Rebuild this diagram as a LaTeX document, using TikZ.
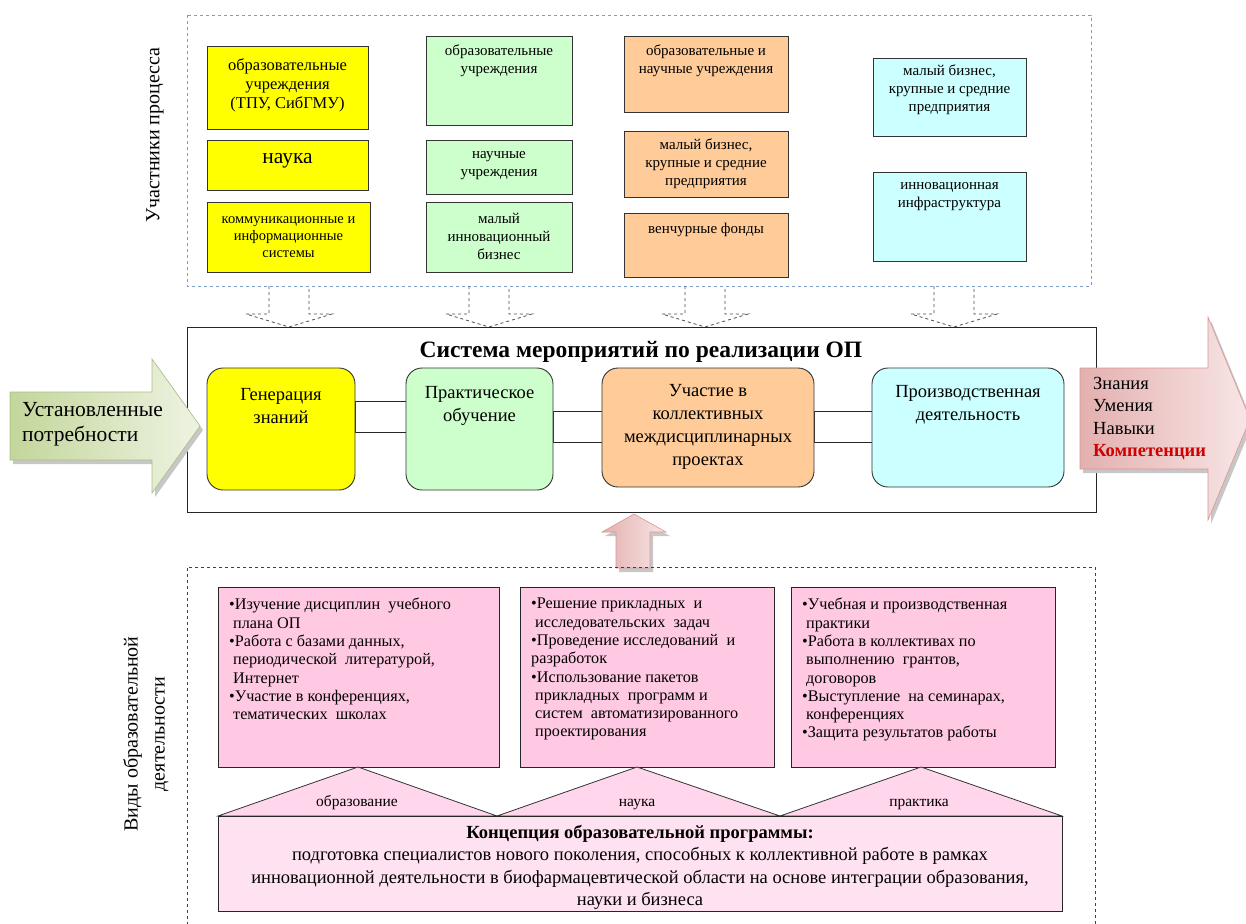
\documentclass[tikz,border=0pt]{standalone}
\usepackage{fontspec}
\setmainfont{Liberation Serif}
\newcommand\myfs[2]{\fontsize{#1}{#2}\selectfont}
\definecolor{yel}{HTML}{FFFF00}
\definecolor{grn}{HTML}{CCFFCC}
\definecolor{org}{HTML}{FFCC99}
\definecolor{cyn}{HTML}{CCFFFF}
\definecolor{pnk}{HTML}{FFC8E3}
\definecolor{tri}{HTML}{FFD6EB}
\definecolor{conc}{HTML}{FFE2F1}
\definecolor{dblue}{HTML}{7E9CC8}
\definecolor{kred}{HTML}{D00000}
\definecolor{garL}{HTML}{C3D69B}
\definecolor{garR}{HTML}{EEF3E2}
\definecolor{garB}{HTML}{A9BE82}
\definecolor{parL}{HTML}{E3B0AF}
\definecolor{parR}{HTML}{F8E6E6}
\definecolor{parB}{HTML}{D99694}
\begin{document}
\begin{tikzpicture}[x=1pt,y=-1pt,
  tbox/.style={draw=black!80, line width=0.8pt, inner sep=0, outer sep=0},
  ttext/.style={align=center, inner sep=0, font=\myfs{15}{18}},
  rbox/.style={draw=black!80, line width=0.9pt, rounded corners=16pt, inner sep=0, outer sep=0},
  rtext/.style={align=center, inner sep=0, font=\myfs{18.5}{22.8}},
  conn/.style={draw=black!85, line width=0.8pt, fill=white},
  darr/.style={draw=black!70, dashed, line width=0.8pt},
  pbox/.style={draw=black!85, line width=0.9pt, fill=pnk, inner sep=0, outer sep=0},
  ptext/.style={align=left, inner sep=0, font=\myfs{16.2}{18.3}, anchor=north west},
  tril/.style={draw=black!80, line width=0.8pt, fill=tri},
  lbl/.style={inner sep=0, anchor=base, font=\myfs{15.5}{17}},
  shad/.style={fill=black!22}
]
\useasboundingbox (0,0) rectangle (1246,923);

% ---------- top participants area ----------
\draw[dblue, dashed, line width=0.9pt] (187,15) rectangle (1091,286);
\node[rotate=90, inner sep=0, font=\myfs{20}{22}] (lblPart) at (155,135) {Участники процесса};

\node[tbox, fill=yel, minimum width=161pt, minimum height=83pt] (y1) at (287.5,87.5) {};
\node[ttext, font=\myfs{16.5}{19}] (y1t) at (287.5,85) {образовательные\\учреждения\\(ТПУ, СибГМУ)};
\node[tbox, fill=yel, minimum width=161pt, minimum height=50pt] (y2) at (287.5,165) {};
\node[ttext, font=\myfs{21.5}{23}] (y2t) at (287.5,161) {наука};
\node[tbox, fill=yel, minimum width=163pt, minimum height=70pt] (y3) at (288.5,237) {};
\node[ttext, font=\myfs{14.5}{17}] (y3t) at (y3) {коммуникационные и\\информационные\\системы};

\node[tbox, fill=grn, minimum width=146pt, minimum height=89pt] (g1) at (499,80.5) {};
\node[ttext] (g1t) at (499,61) {образовательные\\учреждения};
\node[tbox, fill=grn, minimum width=146pt, minimum height=54pt] (g2) at (499,167) {};
\node[ttext] (g2t) at (499,165.5) {научные\\учреждения};
\node[tbox, fill=grn, minimum width=146pt, minimum height=70pt] (g3) at (499,237) {};
\node[ttext] (g3t) at (499,236) {малый\\инновационный\\бизнес};

\node[tbox, fill=org, minimum width=164pt, minimum height=76pt] (o1) at (706,74) {};
\node[ttext] (o1t) at (706,61) {образовательные и\\научные учреждения};
\node[tbox, fill=org, minimum width=164pt, minimum height=66pt] (o2) at (706,164) {};
\node[ttext] (o2t) at (706,163.5) {малый бизнес,\\крупные и средние\\предприятия};
\node[tbox, fill=org, minimum width=164pt, minimum height=64pt] (o3) at (706,245) {};
\node[ttext] (o3t) at (706,230) {венчурные фонды};

\node[tbox, fill=cyn, minimum width=153pt, minimum height=78pt] (c1) at (949.5,97) {};
\node[ttext] (c1t) at (949.5,90) {малый бизнес,\\крупные и средние\\предприятия};
\node[tbox, fill=cyn, minimum width=153pt, minimum height=89pt] (c2) at (949.5,216.5) {};
\node[ttext] (c2t) at (949.5,197) {инновационная\\инфраструктура};

% dashed block arrows
\foreach \cx in {289,489,705,954}{
  \draw[darr] (\cx-20,286) -- (\cx-20,314) -- (\cx-43,314) -- (\cx,327) -- (\cx+43,314) -- (\cx+20,314) -- (\cx+20,286);
}

% ---------- main system box ----------
\node[draw=black!85, line width=0.9pt, minimum width=909pt, minimum height=185pt, inner sep=0] (sys) at (641.5,419.5) {};
\node[inner sep=0, font=\bfseries\myfs{23.5}{25}] (title) at (641,352) {Система мероприятий по реализации ОП};

\draw[conn] (355,401) rectangle (406,432);
\draw[conn] (553,411) rectangle (602,442);
\draw[conn] (814,411) rectangle (872,442);

\node[rbox, fill=yel, minimum width=148pt, minimum height=122pt] (gen) at (281,429) {};
\node[rtext] (gent) at (281,406) {Генерация\\знаний};
\node[rbox, fill=grn, minimum width=147pt, minimum height=122pt] (prak) at (479.5,429) {};
\node[rtext] (prakt) at (479.5,406) {Практическое\\обучение};
\node[rbox, fill=org, minimum width=212pt, minimum height=119pt] (uch) at (708,427.5) {};
\node[rtext] (ucht) at (708,427) {Участие в\\коллективных\\междисциплинарных\\проектах};
\node[rbox, fill=cyn, minimum width=192pt, minimum height=119pt] (proiz) at (968,427.5) {};
\node[rtext] (proizt) at (968,405) {Производственная\\деятельность};

% green input arrow
\fill[shad] (13,396) -- (155,396) -- (155,363) -- (203,430) -- (155,497) -- (155,464) -- (13,464) -- cycle;
\draw[draw=garB, line width=0.6pt, left color=garL, right color=garR]
  (10,392) -- (152,392) -- (152,359) -- (200,426) -- (152,493) -- (152,460) -- (10,460) -- cycle;
\node[align=left, inner sep=0, anchor=west, font=\myfs{21.5}{25}] (need) at (22,424.5) {Установленные\\потребности};

% pink output arrow
\fill[shad] (1083,372) -- (1211,372) -- (1211,321) -- (1253,423) -- (1211,524) -- (1211,473) -- (1083,473) -- cycle;
\draw[draw=parB, line width=0.6pt, left color=parL, right color=parR]
  (1080,368) -- (1208,368) -- (1208,317) -- (1250,419) -- (1208,520) -- (1208,469) -- (1080,469) -- cycle;
\node[align=left, inner sep=0, anchor=west, font=\myfs{18.5}{22.5}] (res) at (1093,418.5) {Знания\\Умения\\Навыки\\\textcolor{kred}{\bfseries Компетенции}};

% pink up arrow
\fill[shad] (619,572) -- (619,536) -- (605,536) -- (637,518) -- (670,536) -- (653,536) -- (653,572) -- cycle;
\draw[draw=parB, line width=0.6pt, left color=parL, right color=parR]
  (616,568) -- (616,532) -- (602,532) -- (634,514) -- (666,532) -- (650,532) -- (650,568) -- cycle;

% ---------- bottom area ----------
\draw[black!75, dashed, line width=0.9pt] (187,925) -- (187,567) -- (1095,567) -- (1095,925);
\node[rotate=90, align=center, inner sep=0, font=\myfs{20}{27}] (lblVid) at (146,734) {Виды образовательной\\деятельности};

\node[pbox, minimum width=281pt, minimum height=180pt] (p1) at (358.5,677) {};
\node[ptext] (p1t) at (229,598) {•Изучение дисциплин\ \ учебного\\\hspace{4pt}плана ОП\\•Работа с базами данных,\\\hspace{4pt}периодической\ \ литературой,\\\hspace{4pt}Интернет\\•Участие в конференциях,\\\hspace{4pt}тематических\ \ школах};
\node[pbox, minimum width=254pt, minimum height=180pt] (p2) at (647,677) {};
\node[ptext] (p2t) at (531,598) {•Решение прикладных\ \ и\\\hspace{4pt}исследовательских\ \ задач\\•Проведение исследований\ \ и\\разработок\\•Использование пакетов\\\hspace{4pt}прикладных\ \ программ и\\\hspace{4pt}систем\ \ автоматизированного\\\hspace{4pt}проектирования};
\node[pbox, minimum width=264pt, minimum height=180pt] (p3) at (923,677) {};
\node[ptext] (p3t) at (802,598) {•Учебная и производственная\\\hspace{4pt}практики\\•Работа в коллективах по\\\hspace{4pt}выполнению\ \ грантов,\\\hspace{4pt}договоров\\•Выступление\ \ на семинарах,\\\hspace{4pt}конференциях\\•Защита результатов работы};

% triangles
\draw[tril] (218,816) -- (358,767) -- (497,816) -- cycle;
\draw[tril] (497,816) -- (637,767) -- (780,816) -- cycle;
\draw[tril] (780,816) -- (921,767) -- (1062,816) -- cycle;
\node[lbl] (tl1) at (357,806) {образование};
\node[lbl] (tl2) at (637,806) {наука};
\node[lbl] (tl3) at (919,806) {практика};

\node[draw=black!85, line width=0.9pt, fill=conc, minimum width=844pt, minimum height=95pt, inner sep=0] (concept) at (640,863.5) {};
\node[align=center, inner sep=0, font=\myfs{18.5}{22.3}] (conct) at (640,867.5) {{\bfseries Концепция образовательной программы:}\\подготовка специалистов нового поколения, способных к коллективной работе в рамках\\инновационной деятельности в биофармацевтической области на основе интеграции образования,\\науки и бизнеса};
\end{tikzpicture}
\end{document}
